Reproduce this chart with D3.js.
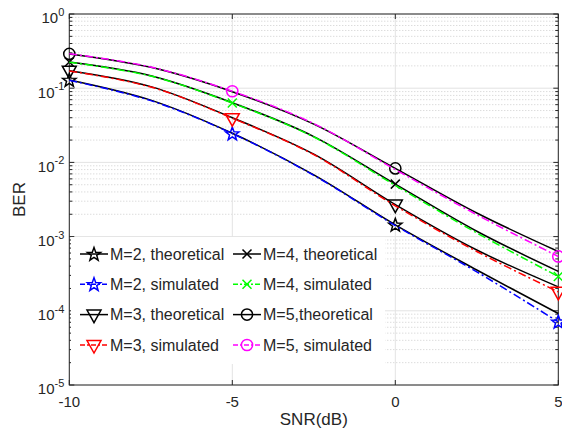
<!DOCTYPE html>
<html>
<head>
<meta charset="utf-8">
<script src="https://cdn.jsdelivr.net/npm/d3@7"></script>
<style>
  body { margin: 0; background: #fff; }
  text { font-family: "Liberation Sans", Arial, sans-serif; fill: #262626; }
</style>
</head>
<body>
<svg id="chart" width="562" height="435"></svg>
<script>
// values
let snr = [-10, -7.5, -5, -2.5, 0, 2.5, 5];

let theoM2 = [0.129, 0.069, 0.0247, 0.0068, 0.00144, 3.55e-4, 9.2e-5];
let simM2  = [0.128, 0.068, 0.0245, 0.0067, 0.00141, 3.35e-4, 7.1e-5];
let theoM3 = [0.172, 0.105, 0.040, 0.0129, 0.0027, 6.6e-4, 2.1e-4];
let simM3  = [0.171, 0.104, 0.0395, 0.0127, 0.0026, 6.3e-4, 1.8e-4];
let theoM4 = [0.225, 0.147, 0.0638, 0.0223, 0.0051, 1.18e-3, 3.4e-4];
let simM4  = [0.224, 0.146, 0.063, 0.0220, 0.0049, 1.12e-3, 2.9e-4];
let theoM5 = [0.29, 0.191, 0.0897, 0.0328, 0.0083, 2.08e-3, 6.3e-4];
let simM5  = [0.292, 0.193, 0.091, 0.0333, 0.0080, 1.97e-3, 5.4e-4];

let xTicks = [-10, -5, 0, 5];
let yTicks = [1e-5, 1e-4, 1e-3, 1e-2, 1e-1, 1];

let legendNames = ["M=2, theoretical", "M=2, simulated", "M=3, theoretical", "M=3, simulated",
                   "M=4, theoretical", "M=4, simulated", "M=5,theoretical", "M=5, simulated"];

const series = [
  { name: legendNames[0], values: theoM2, color: "#000000", dash: null, marker: "star", marks: [0, 4] },
  { name: legendNames[1], values: simM2, color: "#0000ff", dash: "8,3,2,3", marker: "star", marks: [2, 6] },
  { name: legendNames[2], values: theoM3, color: "#000000", dash: null, marker: "tri", marks: [0, 4] },
  { name: legendNames[3], values: simM3, color: "#ff0000", dash: "8,3,2,3", marker: "tri", marks: [2, 6] },
  { name: legendNames[4], values: theoM4, color: "#000000", dash: null, marker: "x", marks: [0, 4] },
  { name: legendNames[5], values: simM4, color: "#00ff00", dash: "8,3,2,3", marker: "x", marks: [2, 6] },
  { name: legendNames[6], values: theoM5, color: "#000000", dash: null, marker: "circle", marks: [0, 4] },
  { name: legendNames[7], values: simM5, color: "#ff00ff", dash: "8,3,2,3", marker: "circle", marks: [2, 6] }
];

const margin = { left: 69.3, top: 14, right: 3.7, bottom: 50 };
const width = 562, height = 435;

const xScale = d3.scaleLinear().domain([-10, 5]).range([margin.left, width - margin.right]);
const yScale = d3.scaleLog().domain([1e-5, 1]).range([height - margin.bottom, margin.top]);

const svg = d3.select("#chart");
const x0 = xScale.range()[0], x1 = xScale.range()[1];
const y0 = yScale.range()[0], y1 = yScale.range()[1];

// minor values on the log axis
let minor = [];
for (let d = -5; d < 0; d++) {
  for (let k = 2; k <= 9; k++) minor.push(k * Math.pow(10, d));
}

// grid
const grid = svg.append("g");
grid.selectAll(".minor").data(minor).enter().append("line")
  .attr("x1", x0).attr("x2", x1)
  .attr("y1", d => yScale(d)).attr("y2", d => yScale(d))
  .attr("stroke", "#cdcdcd").attr("stroke-dasharray", "1,2");
grid.selectAll(".hmaj").data(yTicks).enter().append("line")
  .attr("x1", x0).attr("x2", x1)
  .attr("y1", d => yScale(d)).attr("y2", d => yScale(d))
  .attr("stroke", "#e3e3e3");
grid.selectAll(".vmaj").data(xTicks).enter().append("line")
  .attr("x1", d => xScale(d)).attr("x2", d => xScale(d))
  .attr("y1", y1).attr("y2", y0)
  .attr("stroke", "#e3e3e3");

// axes box and ticks
const ax = svg.append("g").attr("stroke", "#262626").attr("stroke-width", 1);
ax.append("rect").attr("x", x0).attr("y", y1).attr("width", x1 - x0).attr("height", y0 - y1)
  .attr("fill", "none");
xTicks.forEach(t => {
  ax.append("line").attr("x1", xScale(t)).attr("x2", xScale(t)).attr("y1", y0).attr("y2", y0 - 5);
  ax.append("line").attr("x1", xScale(t)).attr("x2", xScale(t)).attr("y1", y1).attr("y2", y1 + 5);
});
yTicks.forEach(t => {
  ax.append("line").attr("x1", x0).attr("x2", x0 + 5).attr("y1", yScale(t)).attr("y2", yScale(t));
  ax.append("line").attr("x1", x1).attr("x2", x1 - 5).attr("y1", yScale(t)).attr("y2", yScale(t));
});
minor.forEach(t => {
  ax.append("line").attr("x1", x0).attr("x2", x0 + 3).attr("y1", yScale(t)).attr("y2", yScale(t));
  ax.append("line").attr("x1", x1).attr("x2", x1 - 3).attr("y1", yScale(t)).attr("y2", yScale(t));
});

// tick labels
svg.append("g").selectAll("text").data(xTicks).enter().append("text")
  .attr("x", d => xScale(d)).attr("y", y0 + 22)
  .attr("text-anchor", "middle").style("font-size", "15px")
  .text(d => d);

const yl = svg.append("g").selectAll("text").data(yTicks).enter().append("text")
  .attr("x", x0 - 5).attr("y", d => yScale(d) + 9.3)
  .attr("text-anchor", "end").style("font-size", "15px");
yl.append("tspan").text("10");
yl.append("tspan").attr("dy", -7.3).style("font-size", "11px").text(d => Math.round(Math.log10(d)));

svg.append("text").attr("x", (x0 + x1) / 2).attr("y", 425)
  .attr("text-anchor", "middle").style("font-size", "17px").text("SNR(dB)");
svg.append("text").attr("transform", `translate(25,${(y0 + y1) / 2}) rotate(-90)`)
  .attr("text-anchor", "middle").style("font-size", "17px").text("BER");

// marker shapes
function markerPath(type) {
  if (type === "circle") return d3.symbol(d3.symbolCircle, Math.PI * 5.6 * 5.6)();
  if (type === "x") return "M-4.5,-4.5L4.5,4.5M-4.5,4.5L4.5,-4.5";
  if (type === "tri") return "M-7,-4.5L7,-4.5L0,8Z";
  // pentagram
  let pts = [];
  for (let i = 0; i < 10; i++) {
    let r = i % 2 === 0 ? 7 : 2.9;
    let a = -Math.PI / 2 + i * Math.PI / 5;
    pts.push([r * Math.cos(a), r * Math.sin(a) + 0.5]);
  }
  return "M" + pts.map(p => p[0].toFixed(2) + "," + p[1].toFixed(2)).join("L") + "Z";
}

const line = d3.line()
  .x(d => xScale(d.x))
  .y(d => yScale(d.y))
  .curve(d3.curveCatmullRom.alpha(0.5));

const plot = svg.append("g");
series.forEach(s => {
  const pts = snr.map((x, i) => ({ x: x, y: s.values[i] }));
  plot.append("path")
    .attr("d", line(pts))
    .attr("fill", "none")
    .attr("stroke", s.color)
    .attr("stroke-width", 1.5)
    .attr("stroke-dasharray", s.dash);
  plot.selectAll(null).data(s.marks.map(i => pts[i])).enter().append("path")
    .attr("transform", d => `translate(${xScale(d.x)},${yScale(d.y)})`)
    .attr("d", markerPath(s.marker))
    .attr("fill", "none")
    .attr("stroke", s.color)
    .attr("stroke-width", 1.5);
});

// legend (two columns, column-major)
const leg = svg.append("g");
leg.append("rect").attr("x", 71).attr("y", 237).attr("width", 314).attr("height", 127).attr("fill", "#fff");
const colX = [80, 233];
const rowY = [254, 284.3, 314.6, 345];
series.forEach((s, i) => {
  const cx = colX[Math.floor(i / 4)], cy = rowY[i % 4];
  leg.append("line").attr("x1", cx).attr("x2", cx + 28).attr("y1", cy).attr("y2", cy)
    .attr("stroke", s.color).attr("stroke-width", 1.5).attr("stroke-dasharray", s.dash ? "5,2,2,2" : null);
  leg.append("path").attr("transform", `translate(${cx + 14},${cy})`)
    .attr("d", markerPath(s.marker)).attr("fill", "none")
    .attr("stroke", s.color).attr("stroke-width", 1.5);
  leg.append("text").attr("x", cx + 30).attr("y", cy + 5.8)
    .style("font-size", "16px").text(s.name);
});
</script>
</body>
</html>
